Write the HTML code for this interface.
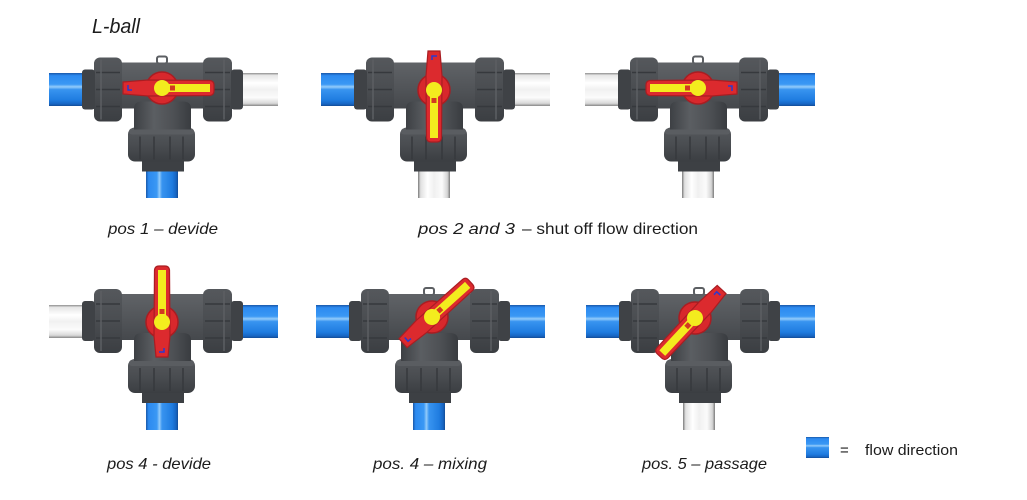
<!DOCTYPE html>
<html><head><meta charset="utf-8"><style>
html,body{margin:0;padding:0;background:#fff;}
svg{display:block;}
</style></head><body>
<svg width="1027" height="500" viewBox="0 0 1027 500" xmlns="http://www.w3.org/2000/svg">
<defs>
<linearGradient id="bH" x1="0" y1="0" x2="0" y2="1">
<stop offset="0" stop-color="#1a58a8"/><stop offset="0.08" stop-color="#2c8af0"/><stop offset="0.34" stop-color="#3a98f4"/><stop offset="0.42" stop-color="#93cbfa"/><stop offset="0.5" stop-color="#3894f0"/><stop offset="0.82" stop-color="#1f7ce0"/><stop offset="0.94" stop-color="#1765c2"/><stop offset="1" stop-color="#134c96"/>
</linearGradient>
<linearGradient id="bV" x1="0" y1="0" x2="1" y2="0">
<stop offset="0" stop-color="#1a58a8"/><stop offset="0.08" stop-color="#2c8af0"/><stop offset="0.34" stop-color="#3a98f4"/><stop offset="0.42" stop-color="#93cbfa"/><stop offset="0.5" stop-color="#3894f0"/><stop offset="0.82" stop-color="#1f7ce0"/><stop offset="0.94" stop-color="#1765c2"/><stop offset="1" stop-color="#134c96"/>
</linearGradient>
<linearGradient id="wH" x1="0" y1="0" x2="0" y2="1">
<stop offset="0" stop-color="#8e8e8e"/><stop offset="0.07" stop-color="#e6e6e6"/><stop offset="0.3" stop-color="#ffffff"/><stop offset="0.5" stop-color="#f1f1f1"/><stop offset="0.75" stop-color="#fbfbfb"/><stop offset="0.92" stop-color="#d8d8d8"/><stop offset="1" stop-color="#868686"/>
</linearGradient>
<linearGradient id="wV" x1="0" y1="0" x2="1" y2="0">
<stop offset="0" stop-color="#7a7a7a"/><stop offset="0.08" stop-color="#e0e0e0"/><stop offset="0.3" stop-color="#ffffff"/><stop offset="0.5" stop-color="#f0f0f0"/><stop offset="0.75" stop-color="#fbfbfb"/><stop offset="0.92" stop-color="#d4d4d4"/><stop offset="1" stop-color="#7a7a7a"/>
</linearGradient>
<linearGradient id="gBody" x1="0" y1="0" x2="0" y2="1">
<stop offset="0" stop-color="#606367"/><stop offset="0.5" stop-color="#53565a"/><stop offset="1" stop-color="#45484c"/>
</linearGradient>
<linearGradient id="gNut" x1="0" y1="0" x2="0" y2="1">
<stop offset="0" stop-color="#55585c"/><stop offset="0.5" stop-color="#4a4d51"/><stop offset="1" stop-color="#3b3e42"/>
</linearGradient>
<linearGradient id="gNeck" x1="0" y1="0" x2="1" y2="0">
<stop offset="0" stop-color="#3d4044"/><stop offset="0.35" stop-color="#5b5e62"/><stop offset="0.7" stop-color="#4d5054"/><stop offset="1" stop-color="#393c40"/>
</linearGradient>
<g id="body">
 <rect x="-28" y="10" width="57" height="34" fill="url(#gNeck)"/>
 <rect x="-34" y="38" width="67" height="34" rx="7" fill="url(#gNut)"/>
 <rect x="-33" y="39" width="65" height="6" rx="3" fill="#5a5d61"/>
 <g stroke="#36393d" stroke-width="1.5">
  <line x1="-22" y1="47" x2="-22" y2="70"/><line x1="-8" y1="47" x2="-8" y2="70"/>
  <line x1="8" y1="47" x2="8" y2="70"/><line x1="21" y1="47" x2="21" y2="70"/>
 </g>
 <rect x="-20" y="72" width="42" height="10" fill="#3d4044"/>
 <rect x="-42" y="-27" width="84" height="46" fill="url(#gBody)"/>
 <path d="M-28 19 Q-28 12 -20 12 L21 12 Q29 12 29 19 L29 40 L-28 40 Z" fill="url(#gNeck)"/>
 <rect x="-5" y="-33" width="10" height="7" rx="2" fill="none" stroke="#5c5f63" stroke-width="2"/>
 <rect x="-68" y="-32" width="28" height="64" rx="6" fill="url(#gNut)"/>
 <rect x="41" y="-32" width="29" height="64" rx="6" fill="url(#gNut)"/>
 <g stroke="#36393d" stroke-width="1.5">
  <line x1="-66" y1="-17" x2="-42" y2="-17"/><line x1="-66" y1="0" x2="-42" y2="0"/><line x1="-66" y1="17" x2="-42" y2="17"/>
  <line x1="43" y1="-17" x2="68" y2="-17"/><line x1="43" y1="0" x2="68" y2="0"/><line x1="43" y1="17" x2="68" y2="17"/>
 </g>
 <line x1="-61" y1="-30" x2="-61" y2="30" stroke="#5c5f63" stroke-width="1.5"/>
 <line x1="62" y1="-30" x2="62" y2="30" stroke="#5c5f63" stroke-width="1.5"/>
 <rect x="-80" y="-20" width="13" height="40" rx="3" fill="#3f4246"/>
 <rect x="69" y="-20" width="12" height="40" rx="3" fill="#3f4246"/>
</g>
<g id="handle">
 <circle r="16" fill="#d8282c" stroke="#a91d22" stroke-width="1.5"/>
 <path d="M-39 -6 L-14 -8 L48 -7.5 Q52 -7 52 -3 L52 3 Q52 7 48 7.5 L-14 8 L-39 6 Z" fill="#dc2a2e" stroke="#a91d22" stroke-width="1.2"/>
 <circle r="8" fill="#f3ec1e"/>
 <rect x="0" y="-4" width="48" height="8" fill="#f3ec1e"/>
 <rect x="8" y="-2.5" width="5" height="5" fill="#d23a20"/>
 <path d="M-34 -3 L-34 2 L-30 2" fill="none" stroke="#2a3ad0" stroke-width="1.5"/>
</g>
<g id="handleL">
 <circle r="16" fill="#d8282c" stroke="#a91d22" stroke-width="1.5"/>
 <path d="M-35 -6 L-14 -8 L52 -7.5 Q56 -7 56 -3 L56 3 Q56 7 52 7.5 L-14 8 L-35 6 Z" fill="#dc2a2e" stroke="#a91d22" stroke-width="1.2"/>
 <circle r="8" fill="#f3ec1e"/>
 <rect x="0" y="-4" width="52" height="8" fill="#f3ec1e"/>
 <rect x="8" y="-2.5" width="5" height="5" fill="#d23a20"/>
 <path d="M-30 -3 L-30 2 L-26 2" fill="none" stroke="#2a3ad0" stroke-width="1.5"/>
</g>
</defs>

<!-- Row 1 pipes -->
<rect x="49" y="73" width="34" height="33" fill="url(#bH)"/>
<rect x="242" y="73" width="36" height="33" fill="url(#wH)"/>
<rect x="146" y="170" width="32" height="28" fill="url(#bV)"/>

<rect x="321" y="73" width="34" height="33" fill="url(#bH)"/>
<rect x="514" y="73" width="36" height="33" fill="url(#wH)"/>
<rect x="418" y="170" width="32" height="28" fill="url(#wV)"/>

<rect x="585" y="73" width="34" height="33" fill="url(#wH)"/>
<rect x="778" y="73" width="37" height="33" fill="url(#bH)"/>
<rect x="682" y="170" width="32" height="28" fill="url(#wV)"/>

<!-- Row 2 pipes -->
<rect x="49" y="305" width="34" height="33" fill="url(#wH)"/>
<rect x="242" y="305" width="36" height="33" fill="url(#bH)"/>
<rect x="146" y="401" width="32" height="29" fill="url(#bV)"/>

<rect x="316" y="305" width="34" height="33" fill="url(#bH)"/>
<rect x="509" y="305" width="36" height="33" fill="url(#bH)"/>
<rect x="413" y="401" width="32" height="29" fill="url(#bV)"/>

<rect x="586" y="305" width="34" height="33" fill="url(#bH)"/>
<rect x="779" y="305" width="36" height="33" fill="url(#bH)"/>
<rect x="683" y="401" width="32" height="29" fill="url(#wV)"/>

<!-- Bodies -->
<use href="#body" transform="translate(162,89.5)"/>
<use href="#body" transform="translate(434,89.5)"/>
<use href="#body" transform="translate(698,89.5)"/>
<use href="#body" transform="translate(162,321)"/>
<use href="#body" transform="translate(429,321)"/>
<use href="#body" transform="translate(699,321)"/>

<!-- Handles -->
<use href="#handle" transform="translate(162,88)"/>
<use href="#handle" transform="translate(434,90) rotate(90)"/>
<use href="#handle" transform="translate(698,88) rotate(180)"/>
<use href="#handleL" transform="translate(162,322) rotate(-90)"/>
<use href="#handle" transform="translate(432,317) rotate(-42)"/>
<use href="#handle" transform="translate(695,318) rotate(133)"/>

<!-- Legend -->
<rect x="806" y="437" width="23" height="21" fill="url(#bH)"/>

<!-- Text -->
<g font-family="'Liberation Sans', sans-serif" fill="#1c1c1c">
<text x="92" y="33" font-size="20" font-style="italic" textLength="48" lengthAdjust="spacingAndGlyphs">L-ball</text>
<text x="108" y="234" font-size="16" font-style="italic" textLength="110" lengthAdjust="spacingAndGlyphs">pos 1 – devide</text>
<text x="418" y="234" font-size="16" font-style="italic" textLength="97" lengthAdjust="spacingAndGlyphs">pos 2 and 3</text>
<text x="522" y="234" font-size="16" textLength="176" lengthAdjust="spacingAndGlyphs">– shut off flow direction</text>
<text x="107" y="469" font-size="16" font-style="italic" textLength="104" lengthAdjust="spacingAndGlyphs">pos 4 - devide</text>
<text x="373" y="469" font-size="16" font-style="italic" textLength="114" lengthAdjust="spacingAndGlyphs">pos. 4 – mixing</text>
<text x="642" y="469" font-size="16" font-style="italic" textLength="125" lengthAdjust="spacingAndGlyphs">pos. 5 – passage</text>
<text x="840" y="455" font-size="15">=</text>
<text x="865" y="455" font-size="15" textLength="93" lengthAdjust="spacingAndGlyphs">flow direction</text>
</g>
</svg>
</body></html>
